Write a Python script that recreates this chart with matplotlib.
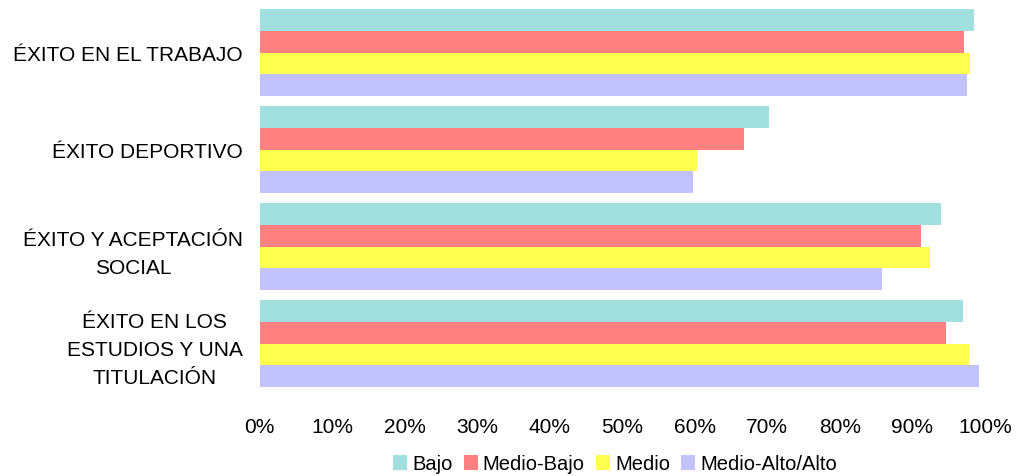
import matplotlib
matplotlib.use("Agg")
import matplotlib.pyplot as plt
import matplotlib.transforms as mtransforms
import numpy as np

categories = ["ÉXITO EN EL TRABAJO", "ÉXITO DEPORTIVO",
              "ÉXITO Y ACEPTACIÓN\nSOCIAL", "ÉXITO EN LOS\nESTUDIOS Y UNA\nTITULACIÓN"]
series_names = ["Bajo", "Medio-Bajo", "Medio", "Medio-Alto/Alto"]
bajo = [98.5, 70.2, 93.9, 96.9]
medio_bajo = [97.1, 66.8, 91.2, 94.6]
medio = [97.9, 60.3, 92.4, 97.8]
medio_alto = [97.5, 59.8, 85.8, 99.2]
xticks = [0, 10, 20, 30, 40, 50, 60, 70, 80, 90, 100]
xtick_labels = [f"{v}%" for v in xticks]

colors = ["#A2E0E0", "#FF8080", "#FFFF50", "#C2C2FF"]
series = [bajo, medio_bajo, medio, medio_alto]

plt.rcParams['font.family'] = ['Liberation Sans', 'DejaVu Sans']

fig = plt.figure(figsize=(10.18, 4.77), dpi=100)
ax = fig.add_axes([259.5/1018, (477-393)/477, (985-259.5)/1018, (393-5)/477])

n = len(series)
h = 0.2235
y = np.arange(len(categories))
for i, (vals, name, c) in enumerate(zip(series, series_names, colors)):
    offs = (i - (n - 1) / 2) * h
    ax.barh(y + offs, vals, height=h, color=c, label=name, edgecolor='none')

ax.set_ylim(len(categories) - 0.5, -0.5)
ax.set_xlim(0, 100)
ax.set_yticks(y)
labels = ax.set_yticklabels(categories, fontsize=15, multialignment='center', linespacing=1.6)
for lab in labels:
    if "\n" in lab.get_text():
        lab.set_transform(lab.get_transform() +
                          mtransforms.ScaledTranslation(0, 5/100, fig.dpi_scale_trans))
ax.set_xticks(xticks)
ax.set_xticklabels(xtick_labels, fontsize=15)
ax.tick_params(axis='both', length=0)
ax.tick_params(axis='y', pad=12)
ax.tick_params(axis='x', pad=18)
for s in ax.spines.values():
    s.set_visible(False)

leg = fig.legend(loc='center', bbox_to_anchor=(615/1018, 1 - 465/477), ncol=4,
                 frameon=False, fontsize=14.5, handlelength=0.7, handleheight=0.7,
                 handletextpad=0.25, columnspacing=0.55)

fig.savefig("out.png", dpi=100)
